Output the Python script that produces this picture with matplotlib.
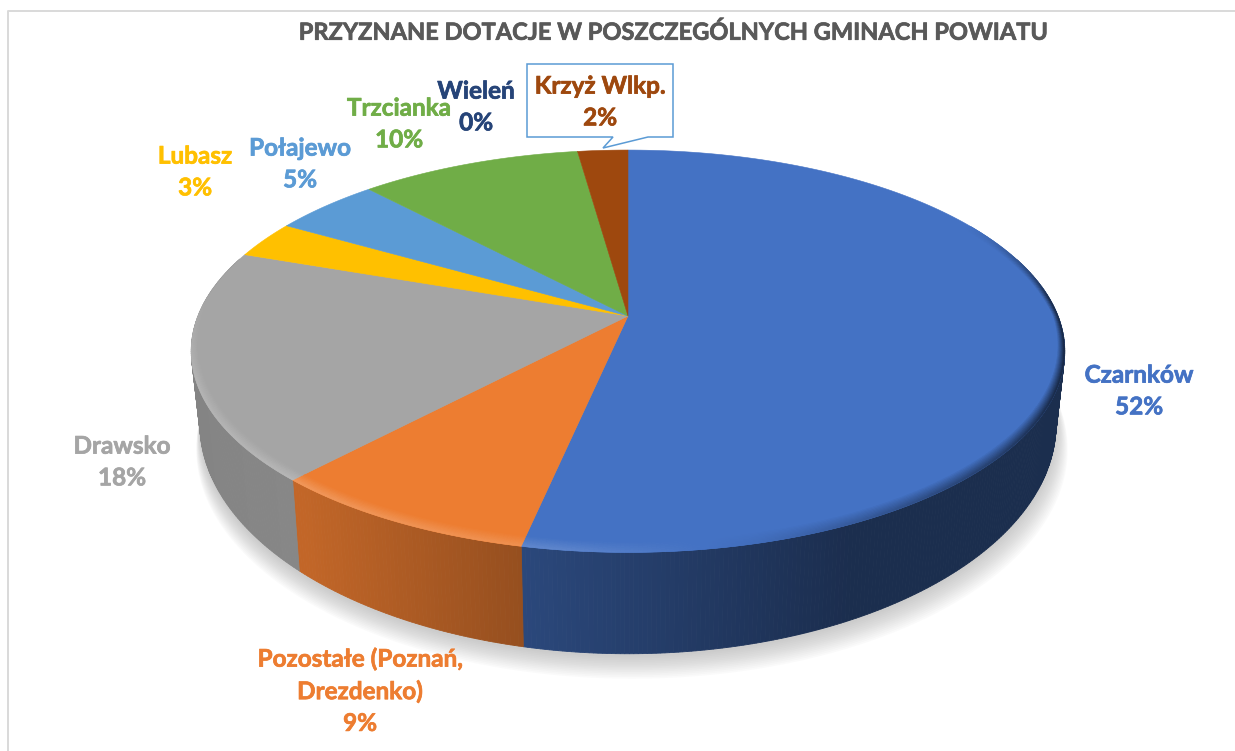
import numpy as np
import matplotlib
matplotlib.use('Agg')
import matplotlib.pyplot as plt
import matplotlib.patheffects as pe

# Data
gminy = ['Czarnków', 'Pozostałe (Poznań,\nDrezdenko)', 'Drawsko', 'Lubasz', 'Połajewo', 'Trzcianka', 'Wieleń', 'Krzyż Wlkp.']
pct_labels = ['52%', '9%', '18%', '3%', '5%', '10%', '0%', '2%']
shares = [53.3, 8.6, 18.5, 3.0, 4.7, 9.7, 0.0, 2.2]  # slice sizes as drawn
colors = ['#4472C4', '#ED7D31', '#A5A5A5', '#FFC000', '#5B9BD5', '#70AD47', '#264478', '#9E480E']
label_xy = [(1139, 391), (360, 691), (122, 462), (195, 172), (300, 164), (399, 124), (476, 107), (600, 102)]

title = 'PRZYZNANE DOTACJE W POSZCZEGÓLNYCH GMINACH POWIATU'

# Perspective of the disc
cx, cy = 628, 316
A, B, k = 195, 430, 0.175
T0 = 69

plt.rcParams['font.family'] = ['Lato', 'DejaVu Sans']
fig = plt.figure(figsize=(12.35, 7.51), dpi=100)
ax = fig.add_axes([0, 0, 1, 1])
ax.set_xlim(0, 1235)
ax.set_ylim(751, 0)
ax.axis('off')


def top_edge(theta, r=1.0):
    # theta in radians, clockwise from 12 o'clock
    u, v = r * np.sin(theta), r * np.cos(theta)
    w = 1 + k * v
    return cx + B * u / w, cy - A * v / w


def bottom_edge(theta):
    u, v = np.sin(theta), np.cos(theta)
    w = 1 + k * v
    return cx + 0.98 * B * u / w, cy - A * v / w + T0 / w ** 2


def shade(color, f):
    rgb = np.array(matplotlib.colors.to_rgb(color))
    if f > 1:
        return tuple(rgb + (1 - rgb) * (f - 1))
    return tuple(rgb * f)


edges = np.radians(np.cumsum([0] + shares) / sum(shares) * 360)

# shadow under the disc
t = np.linspace(0, 2 * np.pi, 361)
bx, by = bottom_edge(t)
for grow in np.linspace(1, 0, 14):
    ax.fill(cx + 4 * grow + (bx - cx) * (1 + 0.018 * grow), by + 3 + 22 * grow, color='#8c8c8c', alpha=0.035, lw=0, zorder=1)

# side wall, darker to the right
for i, c in enumerate(colors):
    if shares[i] == 0:
        continue
    n = max(2, int(np.degrees(edges[i + 1] - edges[i]) * 2))
    ts = np.linspace(edges[i], edges[i + 1], n + 1)
    for a, b in zip(ts[:-1], ts[1:]):
        if np.cos(a) > 0.3 and np.cos(b) > 0.3:
            continue
        x1, y1 = top_edge(a)
        x2, y2 = top_edge(b)
        x3, y3 = bottom_edge(b)
        x4, y4 = bottom_edge(a)
        f = np.interp((x1 + x2) / 2, [190, 300, 522, 850, 1065], [0.80, 0.82, 0.63, 0.40, 0.40])
        ax.fill([x1, x2, x3, x4], [y1, y2, y3, y4], color=shade(c, f), lw=0.6, zorder=2)

# top of the disc
for i, c in enumerate(colors):
    if shares[i] == 0:
        continue
    ts = np.linspace(edges[i], edges[i + 1], 200)
    x, y = top_edge(ts)
    ax.fill(np.r_[cx, x], np.r_[cy, y], color=c, lw=0.4, zorder=3)

# bevel along the rim, soft steps going outward
ring_pos = np.linspace(1, 0, 9)
for i, c in enumerate(colors):
    if shares[i] == 0:
        continue
    n = max(2, int(np.degrees(edges[i + 1] - edges[i]) * 2))
    ts = np.linspace(edges[i], edges[i + 1], n + 1)
    for a, b in zip(ts[:-1], ts[1:]):
        m = (a + b) / 2
        limit = 0.5 if np.sin(m) > 0 else 0.1
        fade = np.clip((limit - np.cos(m)) / 0.4, 0, 1)
        if fade == 0:
            continue
        xm = top_edge(m)[0]
        peak = np.interp(xm, [190, 300, 560, 760, 1000, 1065], [1.16, 1.2, 1.14, 0.95, 0.55, 0.35])
        width = 0.036 * (0.3 + 0.7 * abs(np.cos(m)))
        for j in range(len(ring_pos) - 1):
            r0 = 1 - width * ring_pos[j]
            r1 = 1 - width * ring_pos[j + 1]
            x1, y1 = top_edge(a, r0)
            x2, y2 = top_edge(b, r0)
            x3, y3 = top_edge(b, r1)
            x4, y4 = top_edge(a, r1)
            gain = 1 - ring_pos[j + 1]
            f = 1 + (peak - 1) * gain * fade
            ax.fill([x1, x2, x3, x4], [y1, y2, y3, y4], color=shade(c, f), lw=0.4, zorder=4)

# callout for Krzyz Wlkp.
box_x = [527, 673, 673, 648, 603, 613, 527, 527]
box_y = [64, 64, 137, 137, 148, 137, 137, 64]
ax.fill(box_x, box_y, facecolor='white', edgecolor='#5B9BD5', lw=1.1, zorder=5)

# labels
for name, pct, c, (lx, ly) in zip(gminy, pct_labels, colors, label_xy):
    ax.text(lx, ly, name + '\n' + pct, color=c, fontsize=17.5, fontweight='bold', ha='center', va='center',
            linespacing=1.46, zorder=6, path_effects=[pe.withStroke(linewidth=0.5, foreground=c)])

ax.text(673, 32, title, color='#595959', fontsize=17, fontweight='bold', ha='center', va='center', zorder=6,
        path_effects=[pe.withStroke(linewidth=0.5, foreground='#595959')])

# chart frame
ax.plot([8, 8, 1235], [751, 11, 11], color='#D9D9D9', lw=1.4, zorder=7)

fig.savefig('out.png', dpi=100)
